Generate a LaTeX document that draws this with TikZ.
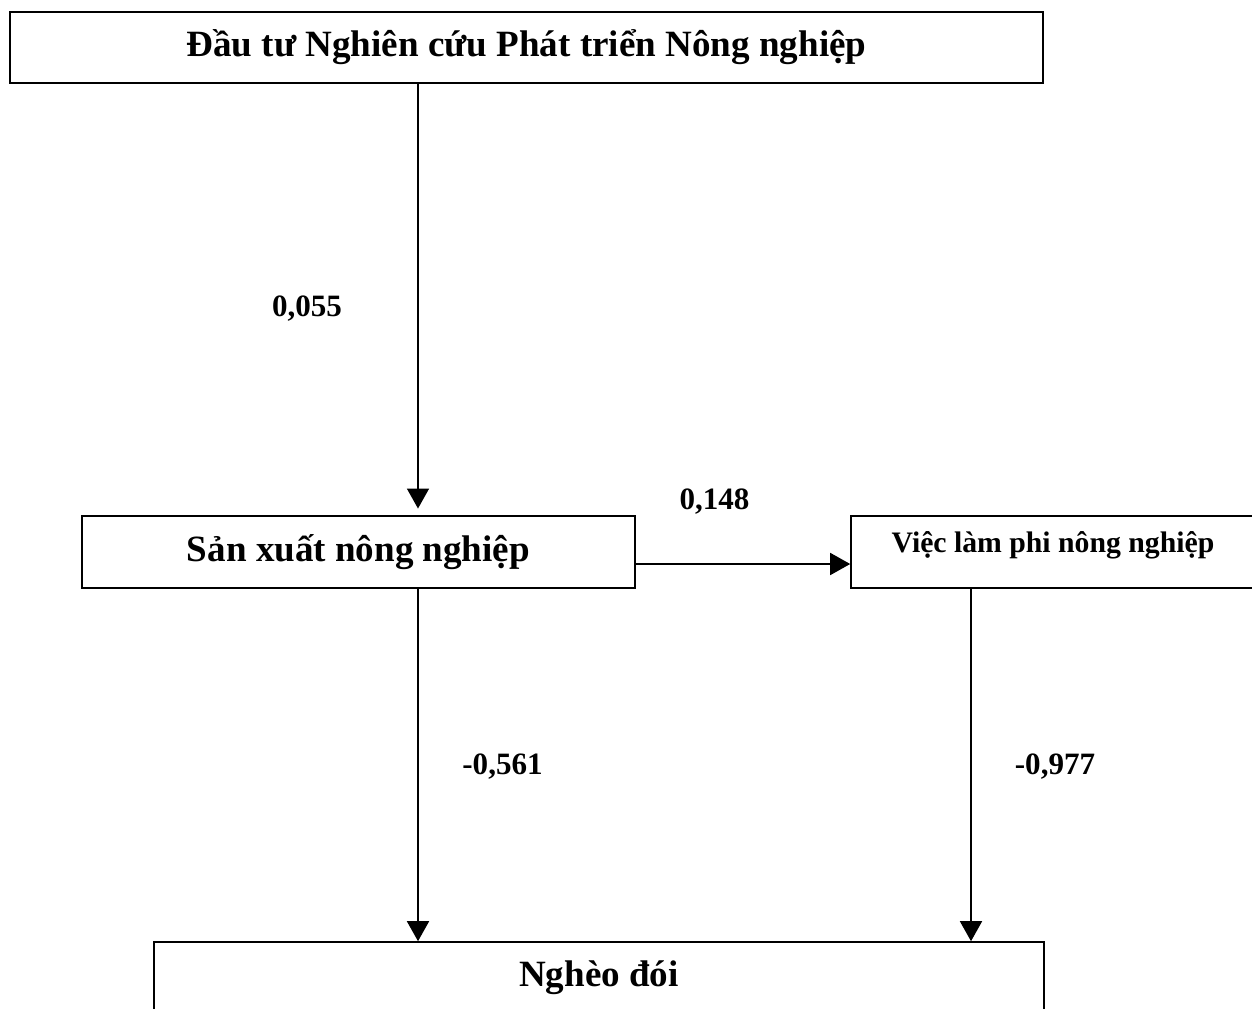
\documentclass[tikz,border=0pt]{standalone}
\usepackage{fontspec}
\setmainfont{Liberation Serif}
\usetikzlibrary{arrows.meta}

\begin{document}
\begin{tikzpicture}[x=0.75pt, y=-0.75pt,
    boxstyle/.style={draw, line width=1.2pt, inner sep=0pt, font=\bfseries\fontsize{27.8}{32}\selectfont},
    numstyle/.style={anchor=base, font=\bfseries\fontsize{23.3}{28}\selectfont},
    arrowstyle/.style={line width=1.2pt, -{Triangle[length=15pt, width=16.5pt]}}]

        % the page has the size of the reference
        \useasboundingbox (0,0) rectangle (1252,1009);
        \clip (0,0) rectangle (1252,1009);

        % the boxes
        \node[boxstyle, minimum width=774.75pt, minimum height=53.25pt] (dautu) at (526.5,47.5)
            {Đầu tư Nghiên cứu Phát triển Nông nghiệp};
        \node[boxstyle, minimum width=414.75pt, minimum height=54pt] (sanxuat) at (358.5,552)
            {Sản xuất nông nghiệp};
        \node[boxstyle, minimum width=303pt, minimum height=54pt, text depth=15pt,
            font=\bfseries\fontsize{22.3}{26}\selectfont] (vieclam) at (1053,552)
            {Việc làm phi nông nghiệp};
        \node[boxstyle, minimum width=667.5pt, minimum height=54pt] (ngheodoi) at (599,978)
            {Nghèo đói};

        % the paths between the boxes
        \draw[arrowstyle, shorten >=5pt] (dautu.south -| 418,0) -- (sanxuat.north -| 418,0);
        \draw[arrowstyle] (sanxuat.east |- 0,564) -- (vieclam.west |- 0,564);
        \draw[arrowstyle] (sanxuat.south -| 418,0) -- (ngheodoi.north -| 418,0);
        \draw[arrowstyle] (vieclam.south -| 971,0) -- (ngheodoi.north -| 971,0);

        % the coefficients
        \node[numstyle] (c1) at (307,316) {0,055};
        \node[numstyle] (c2) at (714.5,509) {0,148};
        \node[numstyle] (c3) at (502.5,774) {-0,561};
        \node[numstyle] (c4) at (1055,774) {-0,977};
\end{tikzpicture}
\end{document}
